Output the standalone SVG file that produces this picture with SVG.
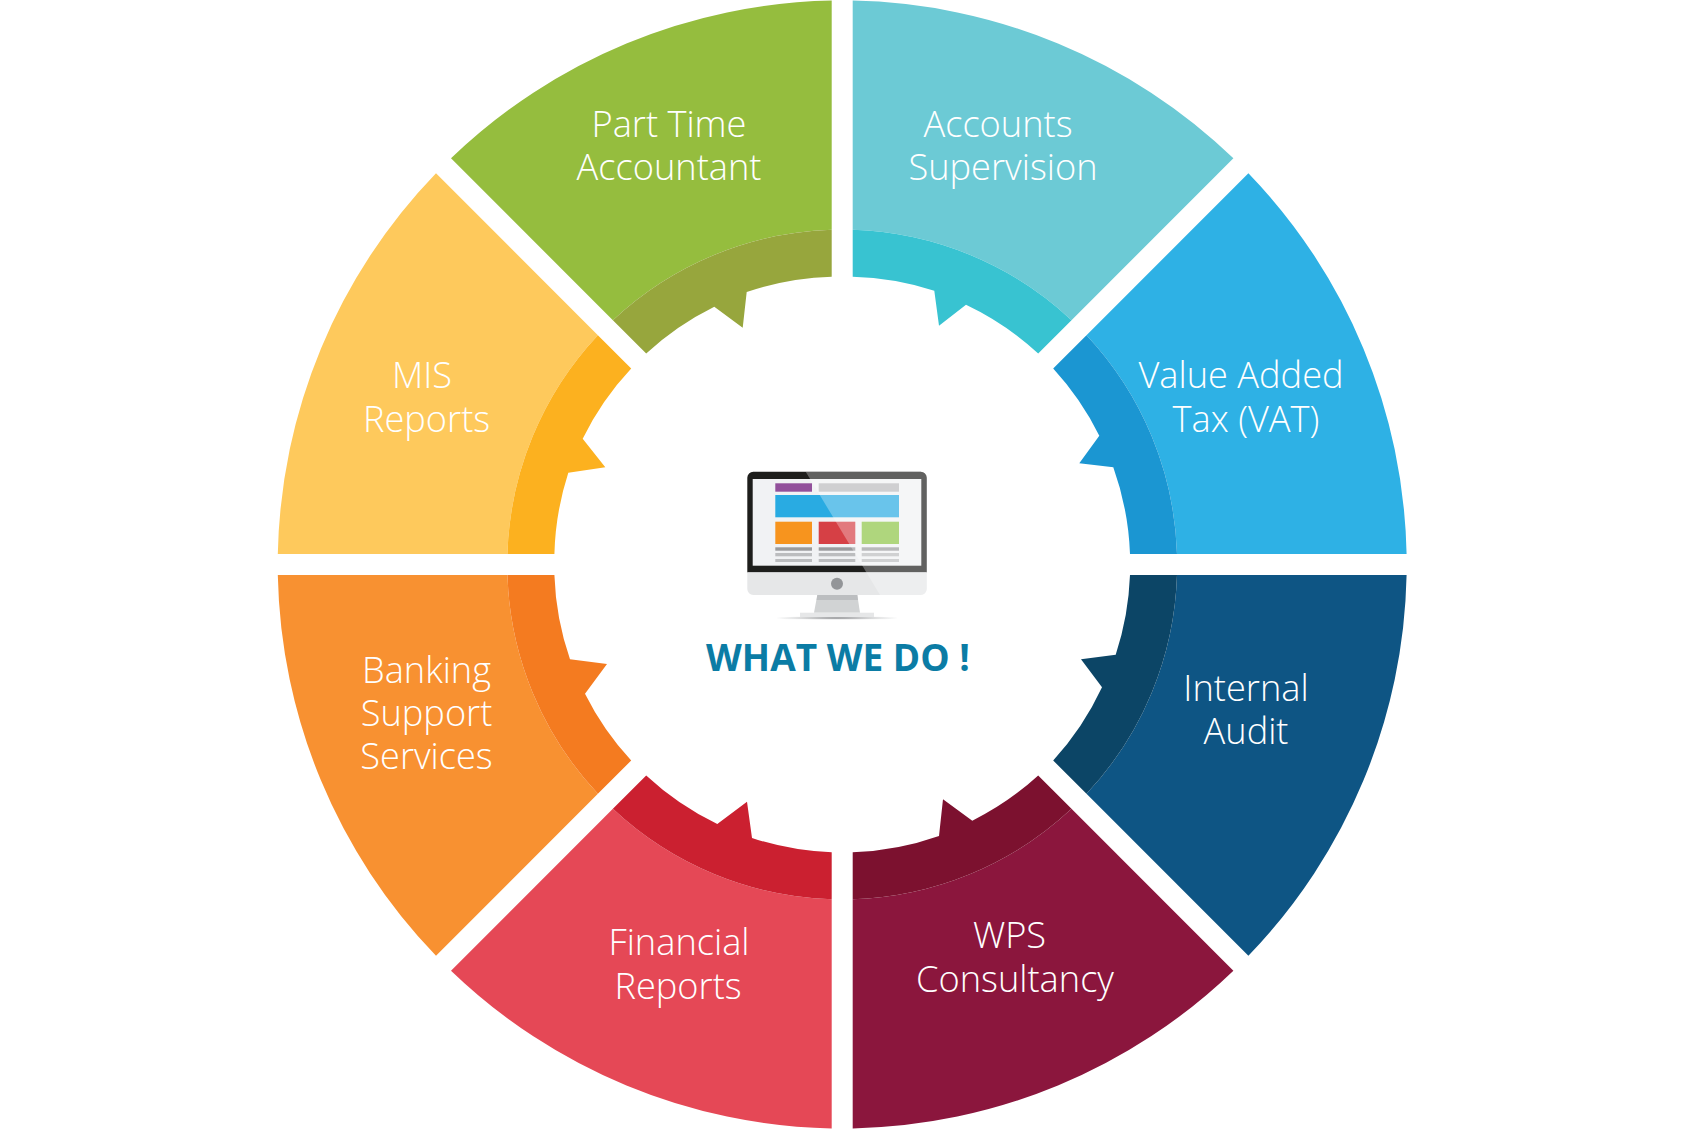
<svg xmlns="http://www.w3.org/2000/svg" width="1684" height="1129" viewBox="0 0 1684 1129">
<style>
.t{font-family:"Open Sans","Liberation Sans",sans-serif;font-weight:300;font-size:36.2px;fill:#fff;text-anchor:middle}
.h{font-family:"Open Sans","Liberation Sans",sans-serif;font-weight:700;font-size:37px;fill:#0b7ca5;text-anchor:middle}
</style>
<defs>
<clipPath id="mon"><path d="M753.3 471.7H920.7a6 6 0 0 1 6 6V589a6 6 0 0 1-6 6H753.3a6 6 0 0 1-6-6V477.7a6 6 0 0 1 6-6Z"/></clipPath>
<radialGradient id="sh"><stop offset="0" stop-color="#77787b"/><stop offset="1" stop-color="#d1d3d4" stop-opacity=".2"/></radialGradient>
</defs>
<rect width="1684" height="1129" fill="#fff"/>
<g id="part-time-accountant">
<path fill="#95bd3e" d="M831.7 .6A564.5 564.5 0 0 0 451 158.3L612.9 320.2A335 335 0 0 1 831.7 229.7Z"/>
<path fill="#97a63d" d="M831.7 229.7A335 335 0 0 0 612.9 320.2L646.2 353.5A288 288 0 0 1 714.3 306.7L742.7 327.7L746.7 292A288 288 0 0 1 831.7 276.7Z"/>
<text class="t" x="669" y="137">Part Time</text><text class="t" x="669" y="180">Accountant</text>
</g>
<g id="accounts-supervision">
<path fill="#6ccad5" d="M852.7 .6A564.5 564.5 0 0 1 1233.4 158.3L1071.5 320.2A335 335 0 0 0 852.7 229.7Z"/>
<path fill="#38c3d1" d="M852.7 229.7A335 335 0 0 1 1071.5 320.2L1038.2 353.5A288 288 0 0 0 966 304.7L939 325.7L934.3 290.7A288 288 0 0 0 852.7 276.7Z"/>
<text class="t" x="998" y="137">Accounts</text><text class="t" x="1003" y="180">Supervision</text>
</g>
<g id="value-added-tax">
<path fill="#2eb1e5" d="M1248.4 173.3A564.5 564.5 0 0 1 1406.6 554L1177 554A335 335 0 0 0 1086.5 335.2Z"/>
<path fill="#1b96d2" d="M1086.5 335.2A335 335 0 0 1 1177 554L1130 554A288 288 0 0 0 1113.3 467.3L1079.3 463.3L1099.3 435.7A288 288 0 0 0 1053.2 368.5Z"/>
<text class="t" x="1241" y="388">Value Added</text><text class="t" x="1246" y="431.5">Tax (VAT)</text>
</g>
<g id="internal-audit">
<path fill="#0e5584" d="M1406.6 575A564.5 564.5 0 0 1 1248.4 955.7L1086.5 793.8A335 335 0 0 0 1177 575Z"/>
<path fill="#0c4566" d="M1177 575A335 335 0 0 1 1086.5 793.8L1053.2 760.5A288 288 0 0 0 1102 687.3L1081 659.3L1115.7 654.7A288 288 0 0 0 1130 575Z"/>
<text class="t" x="1246" y="701">Internal</text><text class="t" x="1246" y="744">Audit</text>
</g>
<g id="wps-consultancy">
<path fill="#8b163d" d="M1233.4 970.7A564.5 564.5 0 0 1 852.7 1128.4L852.7 899.3A335 335 0 0 0 1071.5 808.8Z"/>
<path fill="#7c112f" d="M1071.5 808.8A335 335 0 0 1 852.7 899.3L852.7 852.3A288 288 0 0 0 939 836L943 799.3L972.3 820.7A288 288 0 0 0 1038.2 775.5Z"/>
<text class="t" x="1009.5" y="947.5">WPS</text><text class="t" x="1015" y="991.5">Consultancy</text>
</g>
<g id="financial-reports">
<path fill="#e54856" d="M831.7 1128.4A564.5 564.5 0 0 1 451 970.7L612.9 808.8A335 335 0 0 0 831.7 899.3Z"/>
<path fill="#cb2030" d="M831.7 899.3A335 335 0 0 1 612.9 808.8L646.2 775.5A288 288 0 0 0 717.3 824L747 801.7L752 838A288 288 0 0 0 831.7 852.3Z"/>
<text class="t" x="679" y="955">Financial</text><text class="t" x="678" y="999">Reports</text>
</g>
<g id="banking-support-services">
<path fill="#f89131" d="M436 955.7A564.5 564.5 0 0 1 277.8 575L507.4 575A335 335 0 0 0 597.9 793.8Z"/>
<path fill="#f47b20" d="M597.9 793.8A335 335 0 0 1 507.4 575L554.4 575A288 288 0 0 0 570 659.3L607 664L585 693.7A288 288 0 0 0 631.2 760.5Z"/>
<text class="t" x="426.5" y="682.5">Banking</text><text class="t" x="426.5" y="725.5">Support</text><text class="t" x="426.5" y="769">Services</text>
</g>
<g id="mis-reports">
<path fill="#fec95c" d="M277.8 554A564.5 564.5 0 0 1 436 173.3L597.9 335.2A335 335 0 0 0 507.4 554Z"/>
<path fill="#fcb11f" d="M507.4 554A335 335 0 0 1 597.9 335.2L631.2 368.5A288 288 0 0 0 582.7 438.7L605.3 467.3L568.3 472.7A288 288 0 0 0 554.4 554Z"/>
<text class="t" x="422" y="388">MIS</text><text class="t" x="426.5" y="431.5">Reports</text>
</g>
<g id="what-we-do">
<ellipse cx="837" cy="618" rx="60" ry="1.8" fill="url(#sh)"/>
<path fill="#d1d3d4" d="M817.3 595H857.3L860 612.7H814Z"/>
<path fill="#bcbec0" d="M817.3 595H857.3L858 600H816.6Z"/>
<rect x="800" y="612.7" width="74" height="4.3" fill="#e6e7e8"/>
<g clip-path="url(#mon)">
<rect x="747" y="471" width="180" height="101.5" fill="#1e1e1c"/>
<rect x="747" y="572.3" width="180" height="23" fill="#e6e7e8"/>
<rect x="752.7" y="479" width="168.6" height="86.7" fill="#f1f2f4"/>
<rect x="775.3" y="483.3" width="36.7" height="8.4" fill="#92509b"/>
<rect x="818.7" y="483.3" width="80.3" height="8.4" fill="#babbbd"/>
<rect x="775.3" y="495" width="123.7" height="22.3" fill="#29abe2"/>
<rect x="775.3" y="521.7" width="36.7" height="22.3" fill="#f7941e"/>
<rect x="818.7" y="521.7" width="36.6" height="22.3" fill="#d64045"/>
<rect x="861.7" y="521.7" width="37.3" height="22.3" fill="#8dc545"/>
<g fill="#9a9b9d"><rect x="775.3" y="547.3" width="36.7" height="3.4"/><rect x="818.7" y="547.3" width="36.6" height="3.4"/><rect x="861.7" y="547.3" width="37.3" height="3.4"/></g>
<g fill="#bcbdbf"><rect x="775.3" y="553" width="36.7" height="3.3"/><rect x="818.7" y="553" width="36.6" height="3.3"/><rect x="861.7" y="553" width="37.3" height="3.3"/><rect x="775.3" y="559" width="36.7" height="3"/><rect x="818.7" y="559" width="36.6" height="3"/><rect x="861.7" y="559" width="37.3" height="3"/></g>
<path fill="#fff" fill-opacity=".3" d="M805.7 471.7L880 595H927V471Z"/>
</g>
<circle cx="837" cy="583.7" r="6" fill="#939598"/>
<text class="h" x="838" y="671">WHAT WE DO !</text>
</g>
</svg>
